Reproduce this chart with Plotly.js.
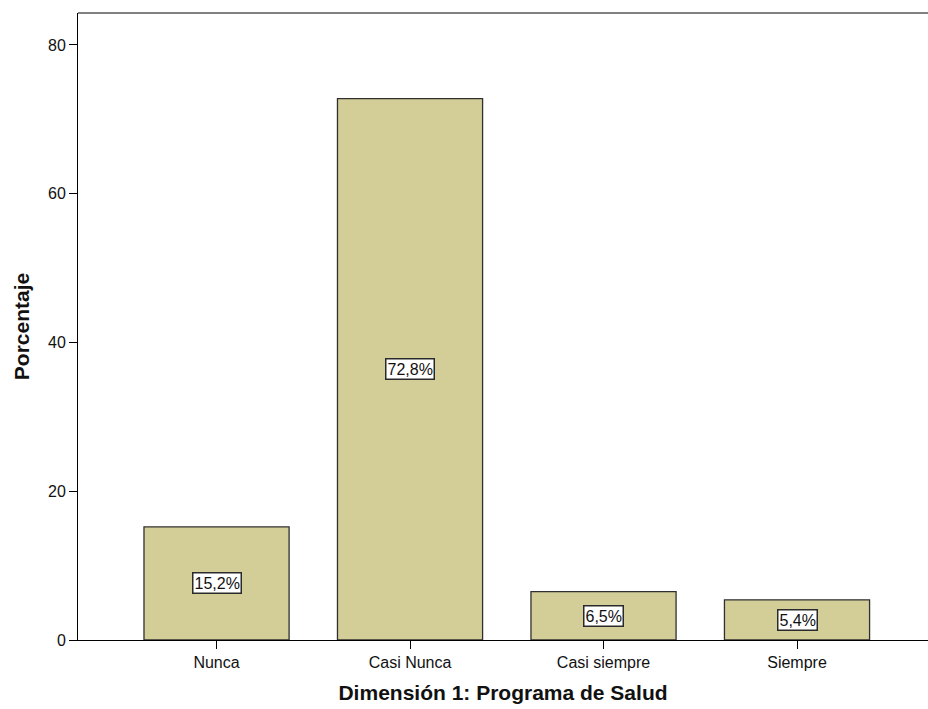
<!DOCTYPE html>
<html>
<head>
<meta charset="utf-8">
<script src="https://cdn.plot.ly/plotly-3.0.1.min.js"></script>
<style>
  html, body { margin: 0; padding: 0; background: #ffffff; }
  #chart { width: 928px; height: 709px; }
</style>
</head>
<body>
<div id="chart"></div>
<script>
// Dimensión 1: Programa de Salud — percentage per response category
const categories = ["Nunca", "Casi Nunca", "Casi siempre", "Siempre"];
const percentages = [15.2, 72.8, 6.5, 5.4];
const yTicks = [0, 20, 40, 60, 80];

const FONT = "Liberation Sans, Arial, sans-serif";
const INK = "#111111";

// value labels in Spanish decimal notation, centred inside each bar
const labelFor = v => v.toFixed(1).replace(".", ",") + "%";
const annotations = categories.map((c, i) => ({
  x: c,
  y: percentages[i] / 2,
  xref: "x",
  yref: "y",
  text: labelFor(percentages[i]),
  showarrow: false,
  bgcolor: "#ffffff",
  bordercolor: "#2a2a2a",
  borderwidth: 1.5,
  borderpad: 1,
  font: { family: FONT, size: 16, color: INK }
}));

const trace = {
  type: "bar",
  x: categories,
  y: percentages,
  width: 0.75,
  marker: {
    color: "#d3ce98",
    line: { color: "#303030", width: 1.3 }
  },
  hoverinfo: "skip"
};

const layout = {
  width: 928,
  height: 709,
  margin: { l: 78, r: 0, t: 13, b: 69 },
  paper_bgcolor: "#ffffff",
  plot_bgcolor: "#ffffff",
  showlegend: false,
  bargap: 0.25,
  font: { family: FONT, color: INK },
  xaxis: {
    type: "category",
    range: [-0.716, 3.677],
    showgrid: false,
    zeroline: false,
    showline: true,
    linecolor: "#000000",
    linewidth: 1,
    ticks: "outside",
    ticklen: 8,
    tickcolor: "#000000",
    tickwidth: 1,
    tickfont: { family: FONT, size: 16, color: INK },
    title: {
      text: "Dimensión 1: Programa de Salud",
      font: { family: FONT, size: 21, color: INK, weight: "bold" },
      standoff: 15
    }
  },
  yaxis: {
    range: [0, 84.3],
    tickmode: "array",
    tickvals: yTicks,
    ticktext: yTicks.map(String),
    showgrid: false,
    zeroline: false,
    showline: true,
    linecolor: "#000000",
    linewidth: 1,
    ticks: "outside",
    ticklen: 8,
    tickcolor: "#000000",
    tickwidth: 1,
    tickfont: { family: FONT, size: 16, color: INK },
    title: {
      text: "Porcentaje",
      font: { family: FONT, size: 21, color: INK, weight: "bold" },
      standoff: 12
    }
  },
  shapes: [
    // grey frame line along the top of the plot area
    {
      type: "line", xref: "paper", yref: "paper",
      x0: 0, x1: 1, y0: 1, y1: 1,
      line: { color: "#808080", width: 2 }
    }
  ],
  annotations: annotations
};

Plotly.newPlot("chart", [trace], layout, { displayModeBar: false, staticPlot: true });
</script>
</body>
</html>
